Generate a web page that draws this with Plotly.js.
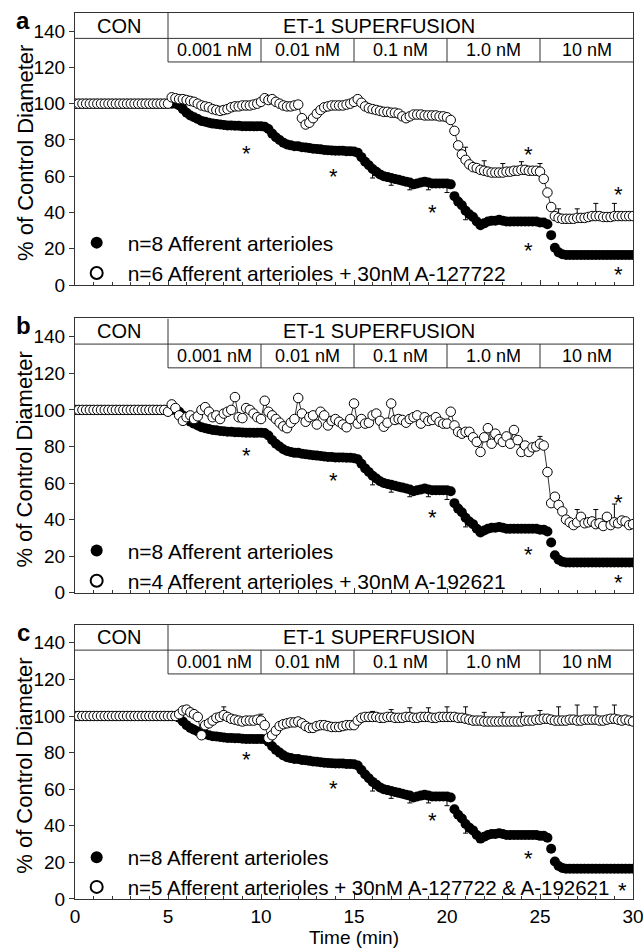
<!DOCTYPE html>
<html><head><meta charset="utf-8">
<script src="https://cdn.plot.ly/plotly-3.0.1.min.js"></script>
<style>html,body{margin:0;padding:0;background:#fff}#chart{width:643px;height:949px}</style>
</head><body><div id="chart"></div><script>
// time (min), sampled every 12 s
const time = [
 0,0.2,0.4,0.6,0.8,1,1.2,1.4,1.6,1.8,
 2,2.2,2.4,2.6,2.8,3,3.2,3.4,3.6,3.8,
 4,4.2,4.4,4.6,4.8,5,5.2,5.4,5.6,5.8,
 6,6.2,6.4,6.6,6.8,7,7.2,7.4,7.6,7.8,
 8,8.2,8.4,8.6,8.8,9,9.2,9.4,9.6,9.8,
 10,10.2,10.4,10.6,10.8,11,11.2,11.4,11.6,11.8,
 12,12.2,12.4,12.6,12.8,13,13.2,13.4,13.6,13.8,
 14,14.2,14.4,14.6,14.8,15,15.2,15.4,15.6,15.8,
 16,16.2,16.4,16.6,16.8,17,17.2,17.4,17.6,17.8,
 18,18.2,18.4,18.6,18.8,19,19.2,19.4,19.6,19.8,
 20,20.2,20.4,20.6,20.8,21,21.2,21.4,21.6,21.8,
 22,22.2,22.4,22.6,22.8,23,23.2,23.4,23.6,23.8,
 24,24.2,24.4,24.6,24.8,25,25.2,25.4,25.6,25.8,
 26,26.2,26.4,26.6,26.8,27,27.2,27.4,27.6,27.8,
 28,28.2,28.4,28.6,28.8,29,29.2,29.4,29.6,29.8,
 30];

// n=8 afferent arterioles (ET-1 alone) – same in all panels
const control = [
 100,100,100,100,100,100,100,100,100,100,
 100,100,100,100,100,100,100,100,100,100,
 100,100,100,100,100,100,100,100,99,97,
 95,93.5,92.5,91.5,90.5,90,89.5,89,88.8,88.5,
 88.3,88,88,87.8,87.8,87.6,87.5,87.5,87.5,87.5,
 87.5,87.3,86,83.5,81.5,80,78.5,77.5,77,76.5,
 76.5,76,75.8,75.5,75.2,75,74.8,74.5,74.3,74.2,
 74,74,74,73.8,73.8,73.6,73,70.5,68,66,
 64,62.5,61,60,59.5,59,58.5,58,57.5,57,
 56.5,55.5,56,56.5,57,56.5,56,56,56,56,
 56,55.5,49,46,44,41,39,37.5,35,33,
 34,35,35.5,35.5,36,35.5,35,35,35,35,
 35,35,35,35,35,34.5,34.5,33.5,27.5,20.5,
 18,17,16.5,16.5,16.5,16.5,16.5,16.5,16.5,16.5,
 16.5,16.5,16.5,16.5,16.5,16.5,16.5,16.5,16.5,16.5,
 16.5];
const controlErrT = [16,17,18,19,20,21];
const controlErrMinus = [5,4,4,4,5,5];

// panel a: + 30nM A-127722
const withA127722 = [
 100,100,100,100,100,100,100,100,100,100,
 100,100,100,100,100,100,100,100,100,100,
 100,100,100,100,100,100,103.5,103,102.5,102.5,
 102,101.5,101,100,99,98.5,98,97,96.5,96,
 96.5,97,98,98.5,98.5,99,99,99,99.5,100,
 101,103,102,102.5,101,100,99,98.5,98.5,99,
 99.5,92,88.5,89.5,92,94.5,96.5,98,98.5,99,
 99,99,99,99.5,100,101,102.5,100.5,98.5,97.5,
 97,96.5,96,95.5,95.5,95,95,94.5,93,92,
 93,94,94,94,93.5,93.5,93.5,93.5,93,93,
 92.5,91,85,77,72,69,66.5,65,64.5,63.5,
 63,62.5,62,62,62,62,62.5,62.5,63,63,
 63.5,63.5,63,63,63,62.5,58.5,51,43,38,
 37,36.5,36.5,36.5,36.5,37,37,37,37.5,38,
 38,38,37.5,37.5,37.5,38,38,38,38,38,
 38];
const errAT = [21,22,23,24,25,26,27,28,29];
const errAPlus = [7,5.5,5,4.5,4.5,5,5,7,7];

// panel b: + 30nM A-192621
const withA192621 = [
 100,100,100,100,100,100,100,100,100,100,
 100,100,100,100,100,100,100,100,100,100,
 100,100,100,100,100,99,103,101,97,94,
 96,97,95,96.5,100,101.5,99,96,97,95,
 98,99,100,107,96,95.5,101,100,98,96,
 95,105,99,97,95,93,91,90,93,95,
 106.5,98,93.5,96,97,92,99,97,91.5,94,
 95,93.5,92,90.5,95,103.5,92.5,95,92.5,93,
 97,98,94,90.8,93,103.5,94.5,95,94.5,93,
 95,96,97,92.5,96,94,94.5,96,93.5,92.5,
 92.5,99,91.5,88,87,88,88,85,82.5,77,
 85,90,81.5,87,84,82.5,85.5,81.5,89,83.5,
 77,80.5,77,79.5,80,81.5,80.5,66,49,52.5,
 48,44.5,40,38.5,37,38.5,41.5,38,38.5,39,
 37.5,38,36.5,41.5,37,38.5,38,39.5,39,37,
 37.5];
const errBT = [25,27,28,29];
const errBPlus = [4,7,8,10];

// panel c: + 30nM A-127722 & A-192621
const withBoth = [
 100,100,100,100,100,100,100,100,100,100,
 100,100,100,100,100,100,100,100,100,100,
 100,100,100,100,100,100,100,100,101,103,
 103.5,102,101,99.5,89.5,95,96,97.5,99,99.5,
 100.5,99.5,98.5,98,97.5,97,97.5,97.5,97.5,98,
 97.5,95,88,89.5,92,94.5,95.5,96,96.5,96.5,
 97,96,94.5,93.5,93.5,94.5,95,95,94.5,94,
 94,94,94.5,95,95,95,97.5,99,99.5,99.5,
 99.5,99.5,99,99,99.5,99.5,99,99,99,99.5,
 99.5,99,99,99.5,99.5,99.5,99,99,99.5,99.5,
 99.5,99.5,99.5,99,99,98.5,98,97.5,97.5,97.5,
 97,97,97,97,97,97,97,97,97,97,
 97,97.5,97.5,97.5,98,98,98.5,98.5,98,97.5,
 97.5,97.5,97.5,98,98,97.5,97.5,98,98,98,
 98,97.5,97.5,98,98.5,98.5,98,97.5,98,97.5,
 97];
const errCT = [8,10,16,17,18,19,20,21,22,23,24,25,26,27,28,29];
const errCPlus = [4.5,3.5,3,4,5,5,5.5,6.5,5,5,5,5,7.5,8.5,7,7.5];

const controlName = 'n=8 Afferent arterioles';
const treatedNames = [
 'n=6 Afferent arterioles + 30nM A-127722',
 'n=4 Afferent arterioles + 30nM A-192621',
 'n=5 Afferent arterioles + 30nM A-127722 & A-192621'];
const panelLetters = ['a','b','c'];

// protocol header
const periodLabels = ['CON','ET-1 SUPERFUSION'];
const periodStart = [0,5];
const periodEnd = [5,30];
const doseLabels = ['0.001 nM','0.01 nM','0.1 nM','1.0 nM','10 nM'];
const doseStart = [5,10,15,20,25];
const doseEnd = [10,15,20,25,30];

// significance asterisks
const starsT = [
 [9.2,13.9,19.2,24.4,24.4,29.2,29.2],
 [9.2,13.9,19.2,24.4,29.2,29.2],
 [9.2,13.9,19.2,24.4,29.45]];
const starsV = [
 [75,62,42,74,21,52,8.2],
 [77,63.3,43.6,23.3,8,51.6],
 [78.5,62.4,45,24.2,7]];

const axisYLabel = '% of Control Diameter';
const axisXLabel = 'Time (min)';

// ---------- drawing ----------
function errArray(tList, vList){
  return time.map(t => { const k = tList.findIndex(q => Math.abs(q - t) < 1e-6); return k >= 0 ? vList[k] : 0; });
}
const treated = [withA127722, withA192621, withBoth];
const treatedErr = [errArray(errAT, errAPlus), errArray(errBT, errBPlus), errArray(errCT, errCPlus)];
const controlErr = errArray(controlErrT, controlErrMinus);
const zeros = time.map(() => 0);

const FONT = 'Liberation Sans, Arial, Helvetica, sans-serif';
const LINE = '#333';
const domains = [[0.693,1],[0.3457,0.6552],[0,0.3098]];
const legendY = [0.7235, 0.376, 0.030];
const periodLabelShift = [-3, -22];   // px: labels sit slightly left of box centres
const traces = [];
const layout = {
  width: 643, height: 949,
  margin: {l: 75, r: 10, t: 13, b: 50},
  paper_bgcolor: '#fff', plot_bgcolor: '#fff',
  font: {family: FONT, color: '#000', size: 19},
  showlegend: true,
  shapes: [], annotations: []
};

for (let p = 0; p < 3; p++) {
  const sfx = p === 0 ? '' : String(p + 1);
  const xa = 'x' + sfx, ya = 'y' + sfx;
  const lg = 'legend' + sfx;
  traces.push({
    x: time, y: control, type: 'scatter', mode: 'markers', name: controlName,
    xaxis: xa, yaxis: ya, legend: lg,
    marker: {color: '#000', size: 10, line: {width: 0}},
    error_y: {type: 'data', symmetric: false, array: zeros, arrayminus: controlErr,
              color: '#000', thickness: 1, width: 2.5}
  });
  traces.push({
    x: time, y: treated[p], type: 'scatter', mode: 'lines', showlegend: false,
    xaxis: xa, yaxis: ya, legend: lg, hoverinfo: 'skip',
    line: {color: '#000', width: 0.8}
  });
  traces.push({
    x: time, y: treated[p], type: 'scatter', mode: 'markers', name: treatedNames[p],
    xaxis: xa, yaxis: ya, legend: lg,
    marker: {color: '#fff', size: 9.5, line: {color: '#000', width: 1}},
    error_y: {type: 'data', symmetric: false, array: treatedErr[p], arrayminus: zeros,
              color: '#000', thickness: 1, width: 2.5}
  });

  layout['xaxis' + sfx] = {
    domain: [0,1], anchor: ya, range: [0,30],
    showline: true, mirror: true, linecolor: LINE, linewidth: 1,
    ticks: 'inside', tick0: 0, dtick: 5, ticklen: 5, tickcolor: LINE,
    minor: {dtick: 1, ticks: 'inside', ticklen: 3, tickcolor: LINE},
    showgrid: false, zeroline: false,
    showticklabels: p === 2, tickfont: {size: 19}, ticklabeloverflow: 'allow',
    title: p === 2 ? {text: axisXLabel, font: {size: 19}, standoff: 4} : {text: ''}
  };
  layout['yaxis' + sfx] = {
    domain: domains[p], anchor: xa, range: [0,150],
    showline: true, mirror: true, linecolor: LINE, linewidth: 1,
    ticks: 'outside', tick0: 0, dtick: 20, ticklen: 5, tickcolor: LINE,
    showgrid: false, zeroline: false, tickfont: {size: 19},
    title: {text: ''}
  };
  layout[lg] = {
    x: -0.0167, xanchor: 'left', y: legendY[p], yanchor: 'middle',
    bgcolor: 'rgba(0,0,0,0)', borderwidth: 0, font: {size: p === 2 ? 20.5 : 21},
    itemwidth: 52, tracegroupgap: 0, itemsizing: 'constant'
  };

  // y-axis title (placed as rotated text beside the tick labels)
  layout.annotations.push({
    text: axisYLabel, xref: 'paper', yref: 'paper', textangle: -90,
    x: -0.0896, y: (domains[p][0] + domains[p][1]) / 2, yshift: -4,
    xanchor: 'center', yanchor: 'middle', showarrow: false, font: {size: 22}});

  // protocol header boxes
  const hl = (x0,y0,x1,y1) => layout.shapes.push({type:'line', xref:xa, yref:ya, x0, y0, x1, y1,
    line:{color: LINE, width: 1}});
  hl(periodStart[0], 136, periodEnd[1], 136);
  hl(doseStart[0], 123, doseEnd[doseEnd.length-1], 123);
  hl(periodEnd[0], 123, periodEnd[0], 150);
  for (let d = 1; d < doseStart.length; d++) hl(doseStart[d], 123, doseStart[d], 136);
  periodLabels.forEach((s, k) => layout.annotations.push({
    text: s, xref: xa, yref: ya, x: (periodStart[k] + periodEnd[k]) / 2, y: 143,
    xshift: periodLabelShift[k],
    showarrow: false, font: {size: 20}, yanchor: 'middle'}));
  doseLabels.forEach((s, k) => layout.annotations.push({
    text: s, xref: xa, yref: ya, x: (doseStart[k] + doseEnd[k]) / 2, y: 129.5,
    showarrow: false, font: {size: 18}, yanchor: 'middle'}));
  starsT[p].forEach((t, k) => layout.annotations.push({
    text: '*', xref: xa, yref: ya, x: t, y: starsV[p][k], showarrow: false,
    font: {size: 22}, yanchor: 'middle', yshift: -4}));
  layout.annotations.push({
    text: '<b>' + panelLetters[p] + '</b>', xref: 'paper', yref: 'paper',
    x: -0.093, y: domains[p][1], xanchor: 'center', yanchor: 'top', yshift: 8,
    showarrow: false, font: {size: 24}});
}

Plotly.newPlot('chart', traces, layout, {staticPlot: true});
</script></body></html>
